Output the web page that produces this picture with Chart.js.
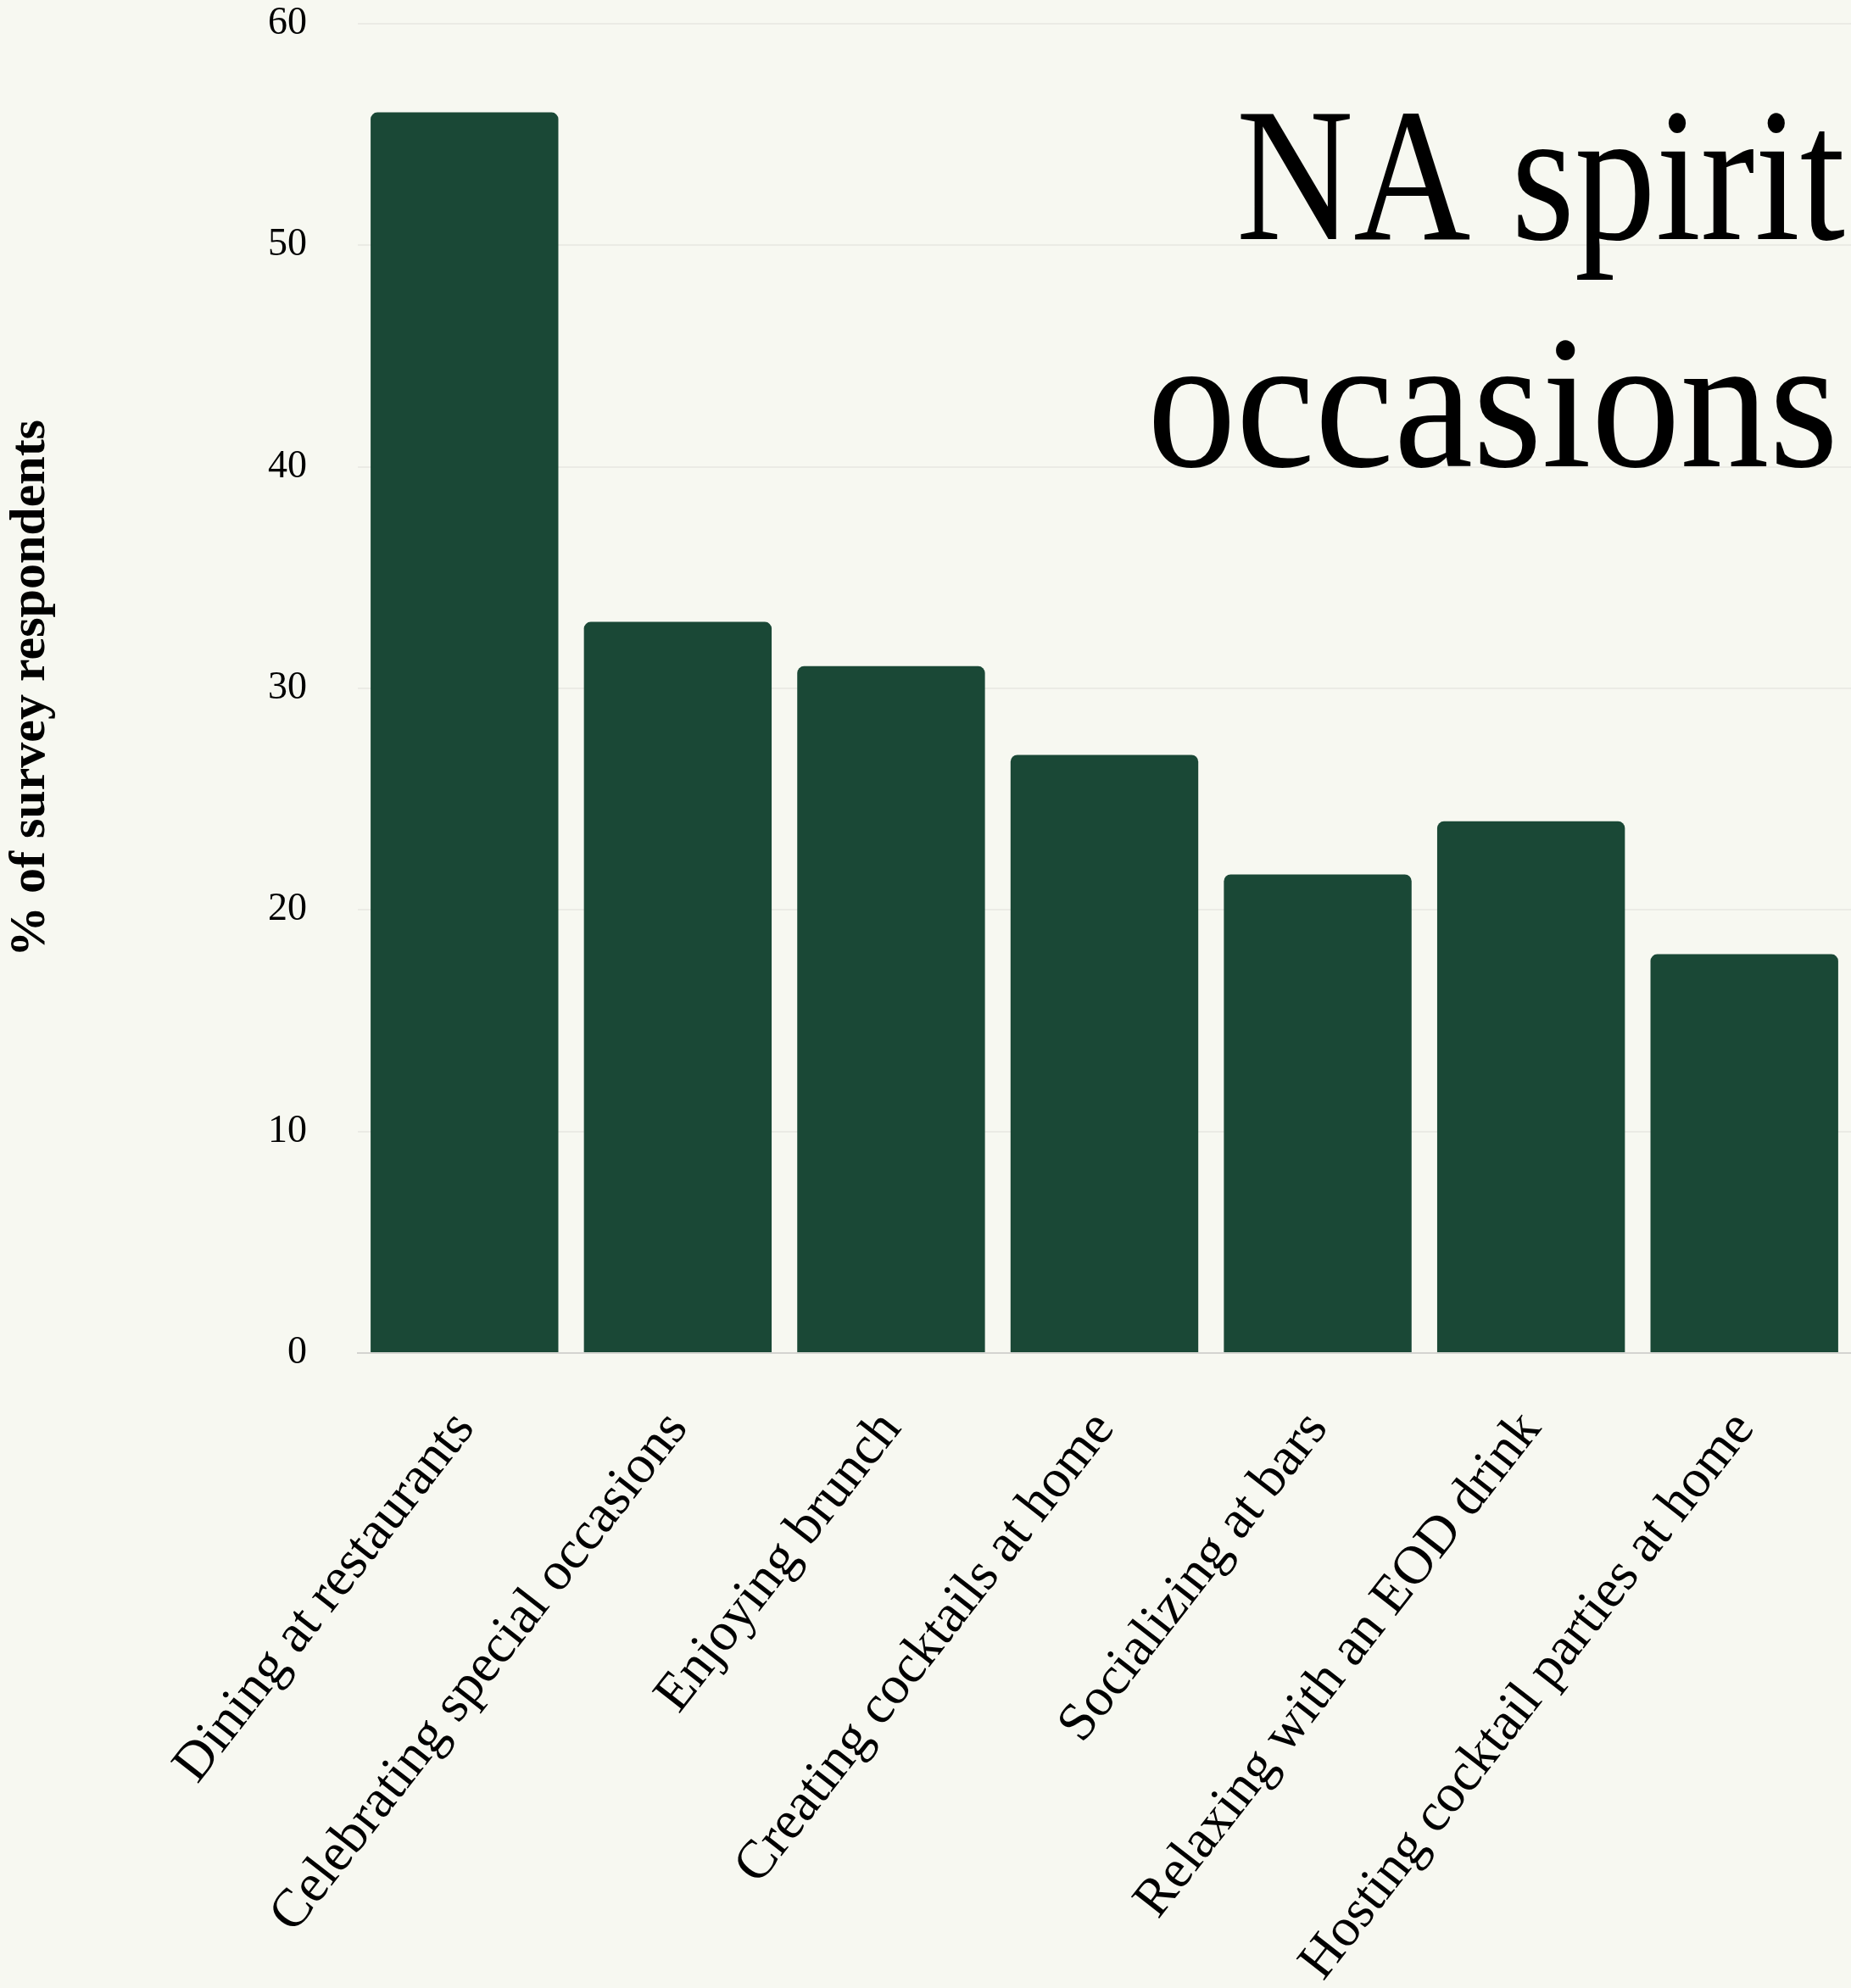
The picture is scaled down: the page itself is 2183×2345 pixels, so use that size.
<!DOCTYPE html>
<html>
<head>
<meta charset="utf-8">
<script src="https://cdn.jsdelivr.net/npm/chart.js@4.4.1/dist/chart.umd.min.js"></script>
<style>
  html, body { margin: 0; padding: 0; background: #f7f8f1; }
  #wrap { width: 2183px; height: 2345px; position: relative; }
</style>
</head>
<body>
<div id="wrap"><canvas id="barchart"></canvas></div>
<script>
const labels = [
  'Dining at restaurants',
  'Celebrating special occasions',
  'Enjoying brunch',
  'Creating cocktails at home',
  'Socializing at bars',
  'Relaxing with an EOD drink',
  'Hosting cocktail parties at home'
];
const respondents = [56, 33, 31, 27, 21.6, 24, 18];
const yTicks = [0, 10, 20, 30, 40, 50, 60];
const titleLines = ['NA spirit', 'occasions'];

const serif = "'Liberation Serif', 'Times New Roman', serif";

// big title in the top right corner, squeezed a bit to look condensed
const cornerTitle = {
  id: 'cornerTitle',
  afterDraw(chart) {
    const c = chart.ctx;
    const baselines = [282, 550];
    const rights = [2176, 2168];
    const widths = [718, 815];
    c.save();
    c.fillStyle = '#000';
    c.font = '225px ' + serif;
    c.textAlign = 'right';
    c.textBaseline = 'alphabetic';
    titleLines.forEach((t, i) => {
      const sx = widths[i] / c.measureText(t).width;
      c.save();
      c.translate(rights[i], baselines[i]);
      c.scale(sx, 1);
      c.fillText(t, 0, 0);
      c.restore();
    });
    c.restore();
  }
};

const ctx = document.getElementById('barchart');
new Chart(ctx, {
  type: 'bar',
  data: {
    labels: labels,
    datasets: [{
      label: '% of survey respondents',
      data: respondents,
      backgroundColor: '#1a4836',
      borderRadius: { topLeft: 8, topRight: 8 },
      borderSkipped: 'bottom',
      barPercentage: 0.88,
      categoryPercentage: 1.0
    }]
  },
  options: {
    responsive: true,
    maintainAspectRatio: false,
    animation: false,
    layout: { padding: { top: 28, right: 0, left: 0, bottom: 0 } },
    plugins: {
      legend: { display: false },
      tooltip: { enabled: false }
    },
    scales: {
      x: {
        grid: { display: false, drawTicks: false },
        border: { display: true, color: '#d4d4d0', width: 2 },
        ticks: {
          color: '#000',
          font: { family: serif, size: 64 },
          minRotation: 52,
          maxRotation: 52,
          padding: 55
        },
        afterFit(scale) { scale.height = 749; }
      },
      y: {
        min: 0,
        max: 60,
        afterBuildTicks(scale) { scale.ticks = yTicks.map(v => ({ value: v })); },
        grid: { color: '#ebebe5', lineWidth: 2, drawTicks: false },
        border: { display: false },
        ticks: {
          color: '#000',
          font: { family: serif, size: 46 },
          padding: 60
        },
        title: {
          display: true,
          text: '% of survey respondents',
          color: '#000',
          font: { family: serif, size: 60, weight: 'bold' },
          padding: { top: 0, bottom: 0 }
        },
        afterFit(scale) {
          scale.width = 422;
          scale.paddingTop = 0;
          scale.paddingBottom = 0;
        }
      }
    }
  },
  plugins: [cornerTitle]
});
</script>
</body>
</html>
